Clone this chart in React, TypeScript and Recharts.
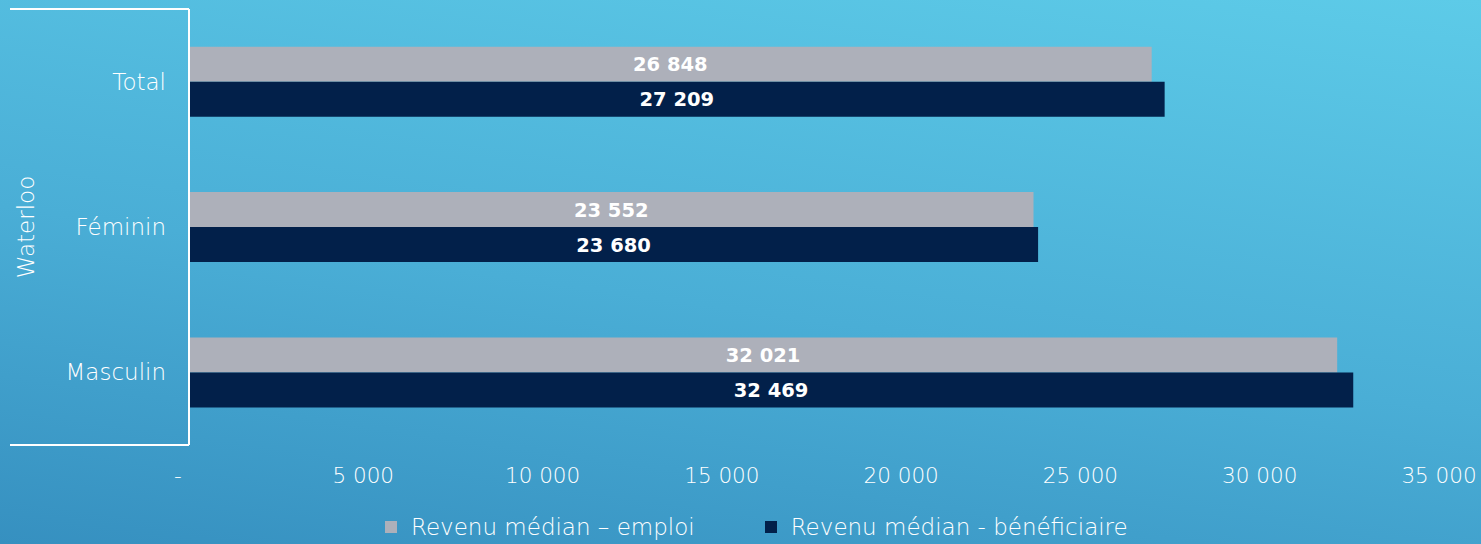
import { BarChart, Bar, XAxis, YAxis, Legend, LabelList } from 'recharts';

const categories = ['Total', 'Féminin', 'Masculin'];
const emploi = [26848, 23552, 32021];
const beneficiaire = [27209, 23680, 32469];
const xTicks = [0, 5000, 10000, 15000, 20000, 25000, 30000, 35000];
const groupLabel = 'Waterloo';
const seriesNames = ['Revenu médian – emploi', 'Revenu médian - bénéficiaire'];

const GRAY = '#ADB0BA';
const NAVY = '#02204A';
const FONT = '"DejaVu Sans", sans-serif';

const data = categories.map((name, i) => ({ name, emploi: emploi[i], beneficiaire: beneficiaire[i] }));

function fmt(v: number) {
  return String(v).replace(/\B(?=(\d{3})+(?!\d))/g, ' ');
}

function XTick({ x, y, payload }: any) {
  const v = payload.value as number;
  return (
    <text x={x} y={y} dx={v === 0 ? -11 : -5} dy={38} textAnchor="middle" fill="#fff" fontSize={21.5} fontFamily={FONT} fontWeight={300}>
      {v === 0 ? '-' : fmt(v)}
    </text>
  );
}

// bracket round the categories and the rotated group name
function GroupBracket(props: any) {
  const vb = props.viewBox || {};
  const right = vb.x + vb.width;
  const top = vb.y;
  const bottom = vb.y + vb.height;
  return (
    <g>
      <line x1={10} x2={right} y1={top} y2={top} stroke="#fff" strokeWidth={2} />
      <line x1={10} x2={right} y1={bottom} y2={bottom} stroke="#fff" strokeWidth={2} />
      <text
        x={26}
        y={(top + bottom) / 2}
        transform={`rotate(-90 26 ${(top + bottom) / 2})`}
        textAnchor="middle"
        dominantBaseline="central"
        fill="#fff"
        fontSize={23}
        fontFamily={FONT}
        fontWeight={300}
      >
        {groupLabel}
      </text>
    </g>
  );
}

function LegendBox() {
  const items = [
    { name: seriesNames[0], color: GRAY },
    { name: seriesNames[1], color: NAVY },
  ];
  return (
    <div style={{ display: 'flex', alignItems: 'center', height: 30, paddingLeft: 385, gap: 70, fontFamily: FONT, fontWeight: 300, fontSize: 23, color: '#fff' }}>
      {items.map((it) => (
        <div key={it.name} style={{ display: 'flex', alignItems: 'center' }}>
          <span style={{ width: 12, height: 12, background: it.color, marginRight: 14, display: 'inline-block' }} />
          <span>{it.name}</span>
        </div>
      ))}
    </div>
  );
}

export default function App() {
  return (
    <div
      style={{
        position: 'fixed',
        left: 0,
        top: 0,
        width: 1481,
        height: 544,
        background: 'linear-gradient(188deg, #5dcbe8 0%, #4aaed6 55%, #3690c0 100%)',
      }}
    >
      <BarChart
        width={1481}
        height={544}
        data={data}
        layout="vertical"
        margin={{ top: 9, right: 37, left: 0, bottom: 2 }}
        barCategoryGap="26%"
        barGap={0}
      >
        <XAxis
          type="number"
          domain={[0, 35000]}
          ticks={xTicks}
          axisLine={false}
          tickLine={false}
          tickSize={0}
          tickMargin={0}
          height={67}
          tick={<XTick />}
          interval={0}
        />
        <YAxis
          type="category"
          dataKey="name"
          width={189}
          axisLine={{ stroke: '#fff', strokeWidth: 2 }}
          tickLine={false}
          tickSize={0}
          tickMargin={23}
          tick={{ fill: '#fff', fontSize: 23, fontFamily: FONT, fontWeight: 300 }}
          label={<GroupBracket />}
        />
        <Legend
          verticalAlign="bottom"
          content={<LegendBox />}
          wrapperStyle={{ left: 0, width: 1481, bottom: 2, height: 30 }}
        />
        <Bar dataKey="emploi" name={seriesNames[0]} fill={GRAY} isAnimationActive={false}>
          <LabelList dataKey="emploi" position="center" formatter={(v: any) => fmt(Number(v))} fill="#fff" fontSize={19.5} fontWeight="bold" fontFamily={FONT} />
        </Bar>
        <Bar dataKey="beneficiaire" name={seriesNames[1]} fill={NAVY} isAnimationActive={false}>
          <LabelList dataKey="beneficiaire" position="center" formatter={(v: any) => fmt(Number(v))} fill="#fff" fontSize={19.5} fontWeight="bold" fontFamily={FONT} />
        </Bar>
      </BarChart>
    </div>
  );
}
